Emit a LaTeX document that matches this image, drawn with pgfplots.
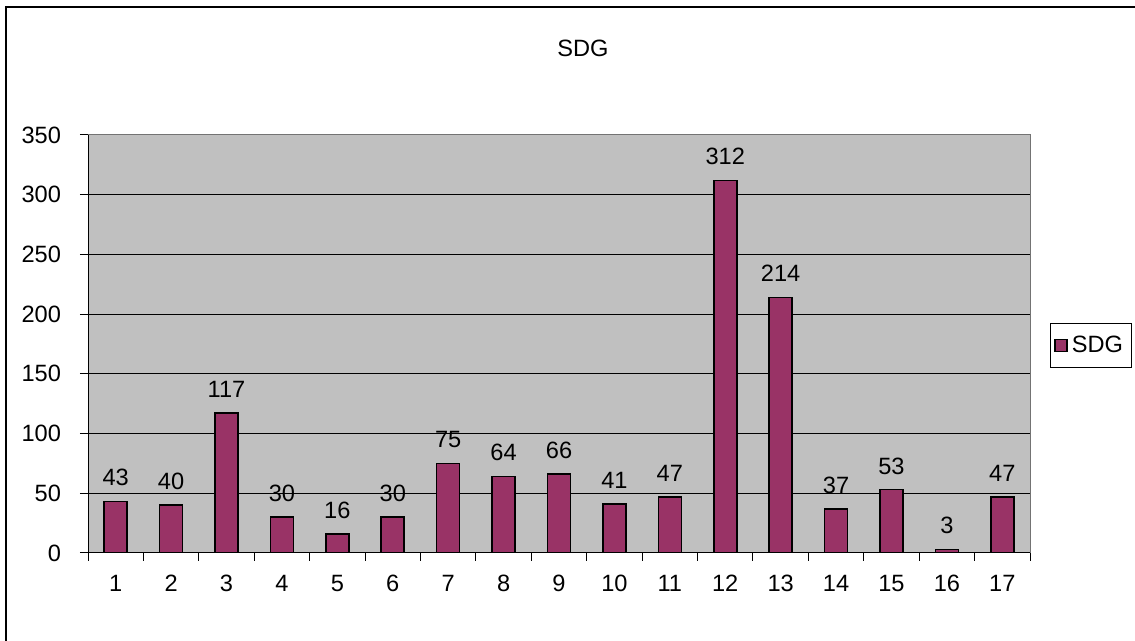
\documentclass[border=0pt]{standalone}
\usepackage{pgfplots}
\pgfplotsset{compat=1.18}
\usepackage{fontspec}
\setmainfont{Liberation Sans}
\definecolor{plum}{HTML}{993366}
\definecolor{plotgray}{HTML}{C0C0C0}
\newcommand{\chartfont}{\fontsize{11.8}{14}\selectfont}
\begin{document}
\begin{tikzpicture}
\useasboundingbox (0,0) rectangle (567.5pt,320.5pt);
\fill[white] (0,0) rectangle (567.5pt,320.5pt);
\draw[line width=1pt] (3pt,0) -- (3pt,317pt) -- (567.5pt,317pt);
\node[font=\chartfont] at (291.5pt,296.5pt) {SDG};
\begin{axis}[
    at={(44pt,44pt)}, anchor=south west,
    width=471pt, height=209pt, scale only axis,
    xmin=0.5, xmax=17.5, ymin=0, ymax=350,
    ytick distance=50,
    xtick={1,...,17},
    minor xtick={0.5,1.5,...,17.5},
    major x tick style={draw=none},
    minor tick length=4pt,
    major tick length=4pt,
    tick align=outside,
    xtick pos=bottom, ytick pos=left,
    tick style={black, line width=0.5pt},
    ymajorgrids,
    grid style={black, line width=0.5pt},
    axis line style={draw=gray!90!black, line width=0.5pt},
    axis background/.style={fill=plotgray},
    /pgf/number format/assume math mode=true,
    tick label style={font=\chartfont},
    xticklabel style={yshift=-3.5pt},
    yticklabel style={xshift=-6pt},
    nodes near coords,
    every node near coord/.append style={font=\chartfont, yshift=4pt},
    legend style={at={(1.021,0.496)}, anchor=west, font=\chartfont,
        draw=black, line width=0.5pt, inner xsep=2pt, inner ysep=4pt},
    legend image code/.code={\draw[fill=plum, draw=black, line width=0.8pt] (0pt,-3pt) rectangle (6pt,3pt);},
]
\addplot[ybar, bar width=0.415, fill=plum, draw=black, line width=0.8pt] coordinates {
(1,43) (2,40) (3,117) (4,30) (5,16) (6,30) (7,75) (8,64) (9,66)
(10,41) (11,47) (12,312) (13,214) (14,37) (15,53) (16,3) (17,47)
};
\addlegendentry{SDG}
\draw[black, line width=0.6pt] (rel axis cs:0,0) -- (rel axis cs:0,1);
\draw[black, line width=0.6pt] (rel axis cs:0,0) -- (rel axis cs:1,0);
\end{axis}
\end{tikzpicture}
\end{document}
